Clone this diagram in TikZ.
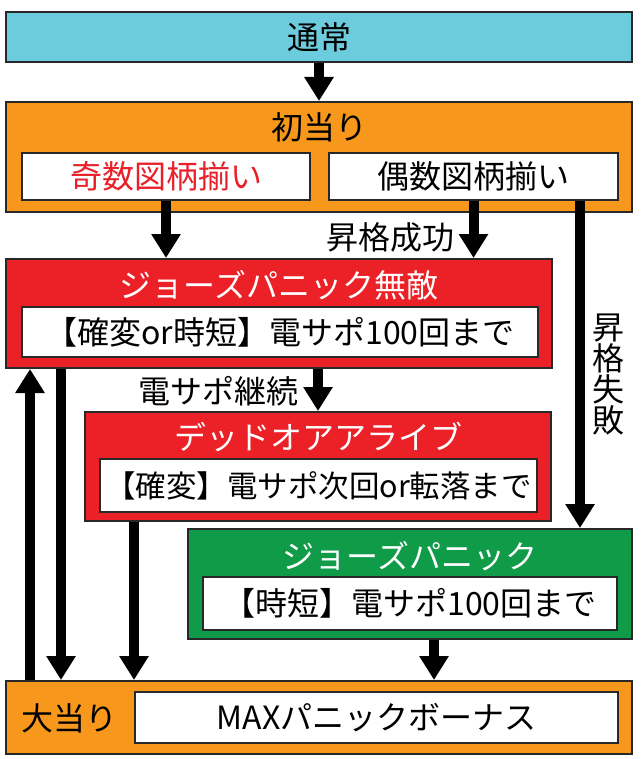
\documentclass[tikz,border=0pt]{standalone}
\usepackage{fontspec}
\setmainfont{Noto Sans CJK JP}
\usepackage{xcolor}
\usepackage{tikz}
\usetikzlibrary{arrows.meta, positioning, calc}
\definecolor{tsujocyan}{RGB}{108,203,220}
\definecolor{hitorange}{RGB}{247,152,29}
\definecolor{jawsred}{RGB}{236,32,39}
\definecolor{jawsgreen}{RGB}{16,155,72}
\definecolor{oddred}{RGB}{232,32,42}
\definecolor{edgegray}{RGB}{40,40,40}
\newcommand{\diagfont}{\fontsize{32}{31}\selectfont}
\tikzset{
  block/.style={rectangle, draw=edgegray, line width=2pt, inner sep=0pt,
    text centered, font=\diagfont},
  tsujoblock/.style={block, fill=tsujocyan},
  hitblock/.style={block, fill=hitorange},
  redblock/.style={block, fill=jawsred},
  greenblock/.style={block, fill=jawsgreen},
  whiteblock/.style={block, fill=white},
  title/.style={inner sep=0pt, font=\diagfont},
  whitetitle/.style={title, text=white},
  fatarrow/.style={-{Triangle[width=28pt, length=24pt]}, line width=10pt, color=black},
}

\begin{document}
\begin{tikzpicture}[x=1pt, y=-1pt]
  \useasboundingbox (0,0) rectangle (640,759);

  \node[tsujoblock, minimum width=626pt, minimum height=50pt] (tsujo) at (319,37) {通常};

  \node[hitblock, minimum width=626pt, minimum height=110pt] (hatsu) at (319,157) {};
  \node[title] (hatsuT) at (319,127) {初当り};
  \node[whiteblock, minimum width=288pt, minimum height=47pt, text=oddred] (odd) at (166,176.5) {奇数図柄揃い};
  \node[whiteblock, minimum width=289pt, minimum height=47pt] (even) at (473.5,176.5) {偶数図柄揃い};

  \node[redblock, minimum width=546pt, minimum height=109pt] (muteki) at (279,313.5) {};
  \node[whitetitle] (mutekiT) at (279,285) {ジョーズパニック無敵};
  \node[whiteblock, minimum width=516pt, minimum height=50pt] (mutekiI) at (280,332) {【確変or時短】電サポ100回まで};

  \node[redblock, minimum width=466pt, minimum height=109pt] (doa) at (318,466.5) {};
  \node[whitetitle] (doaT) at (318,437) {デッドオアアライブ};
  \node[whiteblock, minimum width=437pt, minimum height=53pt,
        font=\fontsize{30.5}{31}\selectfont] (doaI) at (318.5,485.5) {【確変】電サポ次回or転落まで};

  \node[greenblock, minimum width=444pt, minimum height=110pt] (jaws) at (410,584) {};
  \node[whitetitle] (jawsT) at (410,556) {ジョーズパニック};
  \node[whiteblock, minimum width=414pt, minimum height=53pt] (jawsI) at (410,603.5) {【時短】電サポ100回まで};

  \node[hitblock, minimum width=626pt, minimum height=73pt] (oatari) at (319,717.5) {};
  \node[title] (oatariT) at (69,718) {大当り};
  \node[whiteblock, minimum width=483pt, minimum height=51pt] (bonus) at (376.5,717.5) {MAXパニックボーナス};

  \coordinate (failtop) at ([xshift=106.5pt]even.south);
  \coordinate (upfoot) at ([xshift=25pt]oatari.north west);
  \coordinate (downtop) at ([xshift=56pt]muteki.south west);
  \coordinate (doafoot) at ([xshift=50pt]doa.south west);
  \coordinate (jawsfoot) at ([xshift=24pt]jaws.south);

  \draw[fatarrow] (tsujo.south) -- (hatsu.north);
  \draw[fatarrow] (odd.south) -- (odd.south |- muteki.north);
  \draw[fatarrow] (even.south) -- (even.south |- muteki.north);
  \draw[fatarrow] (failtop) -- (failtop |- jaws.north);
  \draw[fatarrow] (muteki.south -| doa.north) -- (doa.north);
  \draw[fatarrow] (upfoot) -- (upfoot |- muteki.south);
  \draw[fatarrow] (downtop) -- (downtop |- oatari.north);
  \draw[fatarrow] (doafoot) -- (doafoot |- oatari.north);
  \draw[fatarrow] (jawsfoot) -- (jawsfoot |- oatari.north);

  \node[title, anchor=east] (upok) at (455,237) {昇格成功};
  \node[title, align=center] (upng) at (608,375) {昇\\格\\失\\敗};
  \node[title, anchor=east] (keizoku) at (299,391) {電サポ継続};
\end{tikzpicture}
\end{document}
